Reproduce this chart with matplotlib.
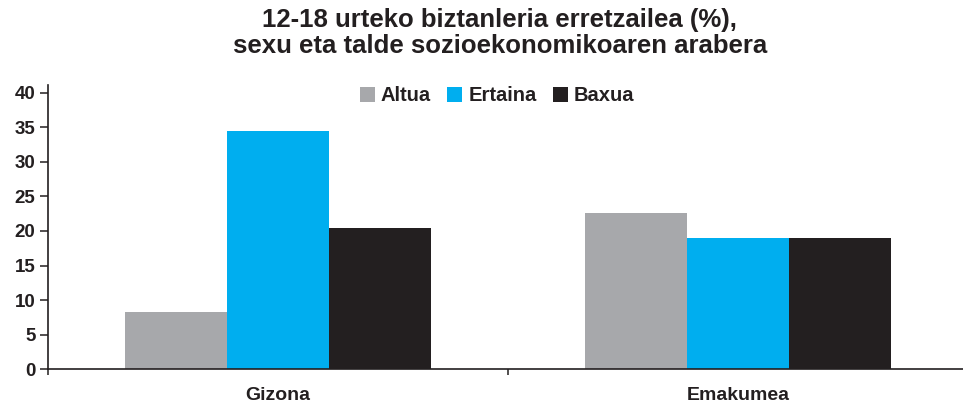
import matplotlib
matplotlib.use("Agg")
import matplotlib.pyplot as plt
from matplotlib.patches import Patch
import numpy as np

plt.rcParams['font.family'] = ['Liberation Sans', 'DejaVu Sans']

title = "12-18 urteko biztanleria erretzailea (%),\nsexu eta talde sozioekonomikoaren arabera"
categories = ["Gizona", "Emakumea"]
series_names = ["Altua", "Ertaina", "Baxua"]
altua = [8.3, 22.6]
ertaina = [34.4, 19.0]
baxua = [20.4, 19.0]
colors = ["#A7A8AB", "#00AEEF", "#231F20"]
yticks = [0, 5, 10, 15, 20, 25, 30, 35, 40]

txt = "#231F20"
fig = plt.figure(figsize=(9.63, 4.04), dpi=100)
ax = fig.add_axes([48/963, 34.7/404, 920/963, 319/404 - 34.7/404])

x = np.arange(len(categories)) + 0.5
w = 0.222
for i, (vals, c) in enumerate(zip([altua, ertaina, baxua], colors)):
    ax.bar(x + (i - 1) * w, vals, width=w, color=c, label=series_names[i], zorder=2)

ax.set_xlim(0, 2)
ax.set_ylim(0, 41.1)
ax.set_yticks(yticks)
ax.set_yticklabels([str(t) for t in yticks], fontsize=13.5, fontweight='bold', color=txt)
ax.tick_params(axis='y', direction='out', length=6, width=1.1, color=txt, pad=3)
ax.set_xticks([0, 1, 2])
ax.set_xticklabels([])
ax.tick_params(axis='x', which='major', direction='out', length=4.5, width=1.1, color=txt)
ax.set_xticks(x, minor=True)
ax.set_xticklabels(categories, minor=True, fontsize=14, fontweight='bold', color=txt)
ax.tick_params(axis='x', which='minor', length=0, pad=13)

for s in ['top', 'right']:
    ax.spines[s].set_visible(False)
for s in ['left', 'bottom']:
    ax.spines[s].set_color(txt)
    ax.spines[s].set_linewidth(1.2)

handles = [Patch(facecolor=c, edgecolor='none') for c in colors]
leg = ax.legend(handles, series_names, loc='center', bbox_to_anchor=(0.488, 0.962),
                ncol=3, frameon=False, handlelength=0.75, handleheight=0.75,
                handletextpad=0.3, columnspacing=0.8,
                prop={'weight': 'bold', 'size': 14.5})
for t in leg.get_texts():
    t.set_color(txt)

fig.text(0.519, 1 - 8/404, title, ha='center', va='top', fontsize=18.5,
         fontweight='bold', color=txt, linespacing=1.08)

fig.savefig("out.png", dpi=100)
